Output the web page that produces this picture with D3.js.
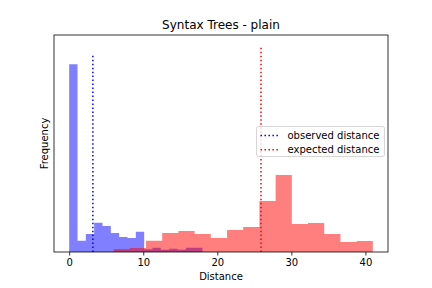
<!DOCTYPE html>
<html>
<head>
<meta charset="utf-8">
<script src="https://cdn.jsdelivr.net/npm/d3@7"></script>
<style>
  body { margin: 0; background: #fff; }
  text { font-family: "DejaVu Sans", sans-serif; fill: #000; }
</style>
</head>
<body>
<script>
// histogram bin edges and heights (frequency)
const blueEdges = [0, 1.125, 2.25, 3.375, 4.5, 5.625, 6.75, 7.875, 9, 10.125, 11.25, 12.375, 13.5, 14.625, 15.75, 16.875, 18];
const blueCounts = [188, 11.3, 18, 29.3, 26, 19, 15, 14, 20.3, 2.7, 4.3, 2.3, 3.3, 2.3, 4.3, 4.3];
const redEdges = [6, 8.1875, 10.375, 12.5625, 14.75, 16.9375, 19.125, 21.3125, 23.5, 25.6875, 27.875, 30.0625, 32.25, 34.4375, 36.625, 38.8125, 41];
const redCounts = [3, 4, 11.3, 19, 21, 18, 14, 22, 25, 51, 77, 28, 29, 18, 10, 11];

const observed = 3.2, observedTop = 197;
const expected = 25.9, expectedTop = 207;
const xTicks = [0, 10, 20, 30, 40];

const width = 432;
const height = 288;
const marginTop = 35;
const marginRight = 44;
const marginBottom = 36;
const marginLeft = 54;

const x = d3.scaleLinear()
    .domain([-2.05, 43.05])
    .range([marginLeft, width - marginRight]);

const y = d3.scaleLinear()
    .domain([0, expectedTop * 1.05])
    .range([height - marginBottom, marginTop]);

const svg = d3.select("body")
  .append("svg")
    .attr("width", width)
    .attr("height", height)
    .attr("viewBox", [0, 0, width, height]);

// one step outline per histogram so the bars have no seams
const area = d3.area()
    .curve(d3.curveStepAfter)
    .x(d => x(d[0]))
    .y0(y(0))
    .y1(d => y(d[1]));

function steps(edges, counts) {
  const pts = counts.map((c, i) => [edges[i], c]);
  pts.push([edges[edges.length - 1], counts[counts.length - 1]]);
  return pts;
}

// blue first, red on top (both alpha 0.5)
[[steps(blueEdges, blueCounts), "#0000ff"], [steps(redEdges, redCounts), "#ff0000"]].forEach(([data, color]) => {
  svg.append("path")
      .datum(data)
      .attr("fill", color)
      .attr("fill-opacity", 0.5)
      .attr("d", area);
});

// vertical dotted lines
const vlines = [
  {v: observed, top: observedTop, color: "#0000ff", label: "observed distance"},
  {v: expected, top: expectedTop, color: "#ff0000", label: "expected distance"}
];
svg.append("g")
  .selectAll("line")
  .data(vlines)
  .join("line")
    .attr("x1", d => x(d.v))
    .attr("x2", d => x(d.v))
    .attr("y1", y(0))
    .attr("y2", d => y(d.top))
    .attr("stroke", d => d.color)
    .attr("stroke-width", 1.5)
    .attr("stroke-dasharray", "1.5,2.475");

// frame
svg.append("rect")
    .attr("x", marginLeft)
    .attr("y", marginTop)
    .attr("width", width - marginLeft - marginRight)
    .attr("height", height - marginTop - marginBottom)
    .attr("fill", "none")
    .attr("stroke", "#000")
    .attr("stroke-width", 0.8);

// X Axis
svg.append("g")
    .attr("transform", `translate(0,${height - marginBottom})`)
    .call(d3.axisBottom(x).tickValues(xTicks).tickSize(3.5).tickPadding(3.5).tickSizeOuter(0))
    .call(g => g.select(".domain").remove())
    .call(g => g.selectAll(".tick line").attr("stroke-width", 0.8))
    .call(g => g.selectAll("text").attr("font-size", 10).attr("font-family", "DejaVu Sans"));

// title and labels
svg.append("text")
    .attr("text-anchor", "middle")
    .attr("x", (marginLeft + width - marginRight) / 2)
    .attr("y", marginTop - 6)
    .attr("font-size", 12)
    .text("Syntax Trees - plain");

svg.append("text")
    .attr("text-anchor", "middle")
    .attr("x", (marginLeft + width - marginRight) / 2)
    .attr("y", 280)
    .attr("font-size", 10)
    .text("Distance");

svg.append("text")
    .attr("text-anchor", "middle")
    .attr("transform", `rotate(-90)`)
    .attr("x", -(marginTop + height - marginBottom) / 2)
    .attr("y", 48)
    .attr("font-size", 10)
    .text("Frequency");

// legend
const legend = svg.append("g").attr("transform", "translate(256.5,126.5)");
legend.append("rect")
    .attr("width", 128)
    .attr("height", 30)
    .attr("rx", 2)
    .attr("fill", "#fff")
    .attr("fill-opacity", 0.8)
    .attr("stroke", "#ccc")
    .attr("stroke-width", 0.8);
vlines.forEach((d, i) => {
  const yy = 9 + i * 14.3;
  legend.append("line")
      .attr("x1", 4).attr("x2", 22)
      .attr("y1", yy).attr("y2", yy)
      .attr("stroke", d.color)
      .attr("stroke-width", 1.5)
      .attr("stroke-dasharray", "1.5,2.475");
  legend.append("text")
      .attr("x", 31)
      .attr("y", yy)
      .attr("dy", "0.35em")
      .attr("font-size", 10)
      .text(d.label);
});
</script>
</body>
</html>
